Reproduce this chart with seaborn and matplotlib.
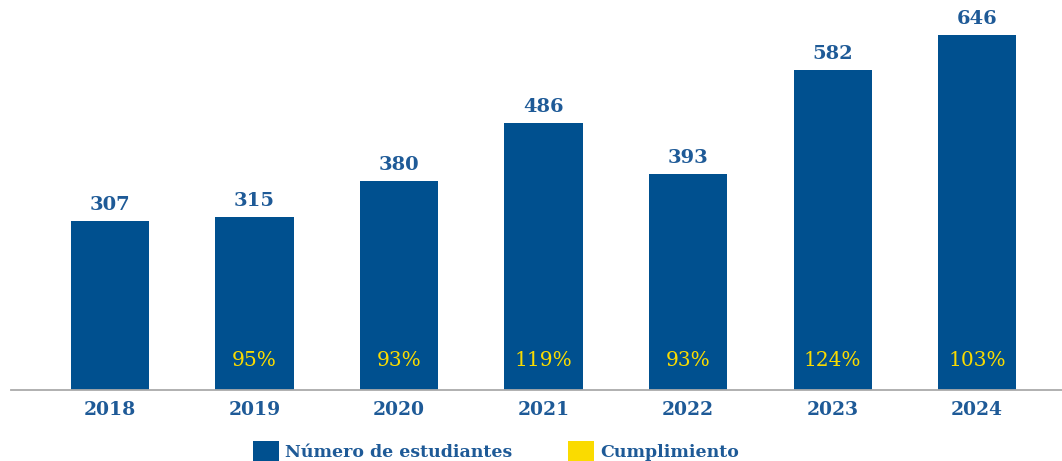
import matplotlib
matplotlib.use("Agg")
import matplotlib.pyplot as plt
from matplotlib.patches import Patch
import seaborn as sns
import pandas as pd

years = ["2018", "2019", "2020", "2021", "2022", "2023", "2024"]
students = [307, 315, 380, 486, 393, 582, 646]
compliance = [None, "95%", "93%", "119%", "93%", "124%", "103%"]

BLUE = "#00508F"
TEXT_BLUE = "#1E5A97"
YELLOW = "#FADB00"

sns.set_theme(style="white")
plt.rcParams["font.family"] = ["DejaVu Serif"]

fig = plt.figure(figsize=(10.62, 4.61), dpi=100)
ax = fig.add_axes([11 / 1062, 71.5 / 461, 1 - 11 / 1062, 389.5 / 461])

df = pd.DataFrame({"year": years, "students": students})
sns.barplot(data=df, x="year", y="students", color=BLUE, saturation=1,
            width=0.54, linewidth=0, ax=ax)

ax.set_xlim(-0.685, 6.588)
ax.set_ylim(0, 710)

for i, (v, c) in enumerate(zip(students, compliance)):
    ax.annotate(str(v), xy=(i, v), xytext=(0, 7), textcoords="offset pixels",
                ha="center", va="bottom", fontsize=14, fontweight="bold",
                color=TEXT_BLUE)
    if c:
        ax.annotate(c, xy=(i, 0), xytext=(0, 29), textcoords="offset pixels",
                    ha="center", va="center", fontsize=14.5,
                    color=YELLOW)

for s in ["top", "right", "left"]:
    ax.spines[s].set_visible(False)
ax.spines["bottom"].set_color("#AAAAAA")
ax.spines["bottom"].set_linewidth(1.3)
ax.set_yticks([])
ax.set_xlabel("")
ax.set_ylabel("")
ax.tick_params(axis="x", length=0, pad=8)
for lab in ax.get_xticklabels():
    lab.set_fontsize(13.5)
    lab.set_fontweight("bold")
    lab.set_color(TEXT_BLUE)

handles = [Patch(facecolor=BLUE, edgecolor="none", label="Número de estudiantes"),
           Patch(facecolor=YELLOW, edgecolor="none", label="Cumplimiento")]
leg = fig.legend(handles=handles, loc="center", bbox_to_anchor=(496 / 1062, 10 / 461),
                 ncol=2, frameon=False, fontsize=12.5, handlelength=1.5,
                 handleheight=1.4, handletextpad=0.35, columnspacing=3.2,
                 borderaxespad=0)
for t in leg.get_texts():
    t.set_color(TEXT_BLUE)
    t.set_fontweight("bold")

fig.savefig("out.png", dpi=100)
